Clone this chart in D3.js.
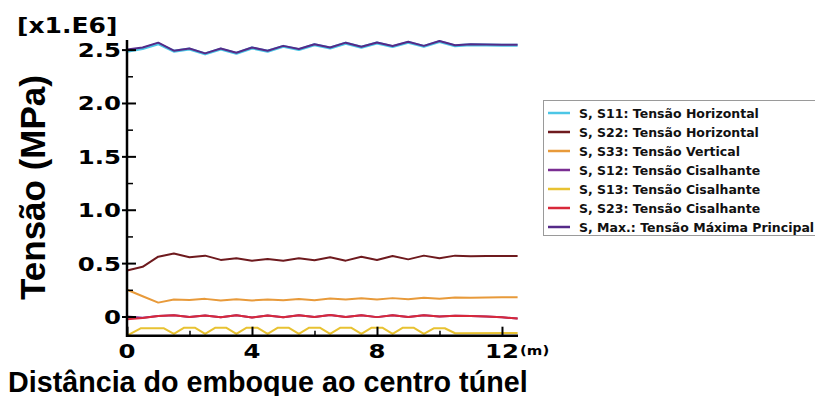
<!DOCTYPE html>
<html><head><meta charset="utf-8">
<script src="https://cdn.jsdelivr.net/npm/d3@7"></script>
<style>body{margin:0;background:#fff;} svg{display:block;}</style>
</head><body>
<svg id="c" width="815" height="396"></svg>
<script>
// ---- data (MPa x1e6) ----
const distance = [0,0.5,1,1.5,2,2.5,3,3.5,4,4.5,5,5.5,6,6.5,7,7.5,8,8.5,9,9.5,10,10.5,11,11.5,12,12.5];
const s11 = [2.485,2.51,2.555,2.485,2.505,2.46,2.505,2.465,2.515,2.485,2.53,2.5,2.545,2.515,2.56,2.522,2.562,2.528,2.568,2.53,2.575,2.535,2.545,2.542,2.54,2.54];
const s22 = [0.43,0.465,0.56,0.59,0.555,0.57,0.53,0.545,0.523,0.538,0.523,0.545,0.527,0.554,0.523,0.56,0.529,0.566,0.535,0.57,0.545,0.57,0.565,0.567,0.566,0.566];
const s33 = [0.25,0.19,0.13,0.16,0.155,0.165,0.15,0.162,0.15,0.16,0.152,0.163,0.153,0.168,0.158,0.17,0.16,0.172,0.162,0.175,0.165,0.177,0.175,0.178,0.18,0.18];
const s12 = [0.0,-0.012,0.005,0.012,-0.005,0.01,-0.008,0.012,-0.01,0.01,-0.008,0.012,-0.005,0.014,-0.005,0.012,-0.006,0.012,-0.004,0.012,0.0,0.008,0.004,0.0,-0.008,-0.018];
const s23 = [-0.025,-0.015,0.005,0.012,-0.005,0.01,-0.008,0.012,-0.01,0.01,-0.008,0.012,-0.005,0.014,-0.005,0.012,-0.006,0.012,-0.004,0.012,0.0,0.008,0.004,0.0,-0.008,-0.018];
const sMax = [2.5,2.52,2.565,2.49,2.51,2.465,2.51,2.47,2.52,2.49,2.535,2.505,2.55,2.52,2.565,2.527,2.567,2.533,2.573,2.535,2.58,2.54,2.55,2.547,2.545,2.545];
const distanceS13 = [0,0.45,1.17,1.5,1.83,2.17,2.5,2.83,3.17,3.5,3.83,4.17,4.5,4.83,5.17,5.5,5.83,6.17,6.5,6.83,7.17,7.5,7.83,8.17,8.5,8.83,9.17,9.5,9.83,10.17,10.5,12.5];
const s13 = [-0.18,-0.11,-0.11,-0.163,-0.105,-0.105,-0.163,-0.105,-0.105,-0.163,-0.105,-0.105,-0.163,-0.105,-0.105,-0.163,-0.105,-0.105,-0.163,-0.105,-0.105,-0.163,-0.105,-0.105,-0.163,-0.105,-0.105,-0.163,-0.11,-0.11,-0.157,-0.155];

const seriesNames = ["S, S11: Tensão Horizontal","S, S22: Tensão Horizontal","S, S33: Tensão Vertical","S, S12: Tensão Cisalhante","S, S13: Tensão Cisalhante","S, S23: Tensão Cisalhante","S, Max.: Tensão Máxima Principal"];
const seriesColors = ["#4cc6e6","#6e1a1e","#e89a3a","#7a2d92","#e8c232","#d8283a","#552a88"];

const yMajor = [0,0.5,1.0,1.5,2.0,2.5];
const yMajorLabels = ["0","0.5","1.0","1.5","2.0","2.5"];
const yMinor = [0.25,0.75,1.25,1.75,2.25];
const xMajor = [0,4,8,12];
const xMajorLabels = ["0","4","8","12"];
const xMinor = [2,6,10];

// ---- drawing ----
const svg = d3.select("#c");
const x = d3.scaleLinear().domain([0,12.5]).range([127,517.6]);
const y = d3.scaleLinear().domain([-0.18,2.59]).range([335.7,40]);
const tickFont = "'DejaVu Sans', Verdana, sans-serif";

const line = d3.line().x(d => x(d[0])).y(d => y(d[1]));
const seriesData = [
  distance.map((d,i)=>[d,s11[i]]),
  distance.map((d,i)=>[d,s22[i]]),
  distance.map((d,i)=>[d,s33[i]]),
  distance.map((d,i)=>[d,s12[i]]),
  distanceS13.map((d,i)=>[d,s13[i]]),
  distance.map((d,i)=>[d,s23[i]]),
  distance.map((d,i)=>[d,sMax[i]])
];
seriesData.forEach((pts,i)=>{
  svg.append("path").attr("d", line(pts)).attr("fill","none")
    .attr("stroke", seriesColors[i]).attr("stroke-width", i===0 ? 3 : 2)
    .attr("stroke-linejoin","round");
});

// axes
const yAxisG = svg.append("g").attr("transform","translate(127,0)");
yAxisG.call(d3.axisRight(y).tickValues(yMajor).tickSize(9).tickFormat(""));
yAxisG.call(g=>g.select(".domain").remove());
yAxisG.selectAll(".tick line").attr("stroke","#000").attr("stroke-width",2).attr("x1",-5);
const yMinorG = svg.append("g").attr("transform","translate(127,0)");
yMinorG.call(d3.axisRight(y).tickValues(yMinor).tickSize(6).tickFormat(""));
yMinorG.call(g=>g.select(".domain").remove());
yMinorG.selectAll(".tick line").attr("stroke","#000").attr("stroke-width",1.5);

const xAxisG = svg.append("g").attr("transform","translate(0,335.7)");
xAxisG.call(d3.axisTop(x).tickValues(xMajor).tickSize(9).tickFormat(""));
xAxisG.call(g=>g.select(".domain").remove());
xAxisG.selectAll(".tick line").attr("stroke","#000").attr("stroke-width",2);
const xMinorG = svg.append("g").attr("transform","translate(0,335.7)");
xMinorG.call(d3.axisTop(x).tickValues(xMinor).tickSize(5).tickFormat(""));
xMinorG.call(g=>g.select(".domain").remove());
xMinorG.selectAll(".tick line").attr("stroke","#000").attr("stroke-width",1.5);

svg.append("line").attr("x1",127).attr("x2",127).attr("y1",40).attr("y2",337).attr("stroke","#000").attr("stroke-width",2.5);
svg.append("line").attr("x1",126).attr("x2",518).attr("y1",335.7).attr("y2",335.7).attr("stroke","#000").attr("stroke-width",2.5);

// tick labels (stretched horizontally like the reference)
yMajor.forEach((v,i)=>{
  svg.append("text").attr("transform",`translate(121,${y(v)+7.5}) scale(1.22,1)`)
    .attr("text-anchor","end").attr("font-family",tickFont).attr("font-weight","bold")
    .attr("font-size",20).attr("fill","#000").text(yMajorLabels[i]);
});
xMajor.forEach((v,i)=>{
  svg.append("text").attr("transform",`translate(${x(v)},357.5) scale(1.22,1)`)
    .attr("text-anchor","middle").attr("font-family",tickFont).attr("font-weight","bold")
    .attr("font-size",20).attr("fill","#000").text(xMajorLabels[i]);
});
svg.append("text").attr("transform","translate(520,355) scale(1.15,1)")
  .attr("font-family",tickFont).attr("font-weight","bold").attr("font-size",13).text("(m)");
svg.append("text").attr("transform","translate(17,33) scale(1.22,1)")
  .attr("font-family",tickFont).attr("font-weight","bold").attr("font-size",20.5).text("[x1.E6]");

// axis titles
svg.append("text").attr("x",8).attr("y",391.5)
  .attr("font-family","'Liberation Sans', Arial, sans-serif").attr("font-weight","bold")
  .attr("font-size",28.7).text("Distância do emboque ao centro túnel");
svg.append("text").attr("transform","translate(45,187.5) rotate(-90)").attr("text-anchor","middle")
  .attr("font-family","'Liberation Sans', Arial, sans-serif").attr("font-weight","bold")
  .attr("font-size",35).text("Tensão (MPa)");

// legend
const lg = svg.append("g");
lg.append("rect").attr("x",543.5).attr("y",100.5).attr("width",290).attr("height",135)
  .attr("fill","#fff").attr("stroke","#9a9a9a").attr("stroke-width",1);
seriesNames.forEach((n,i)=>{
  const cy = 113 + i*19;
  lg.append("line").attr("x1",548).attr("x2",570).attr("y1",cy).attr("y2",cy)
    .attr("stroke",seriesColors[i]).attr("stroke-width",2.5);
  lg.append("text").attr("x",579).attr("y",cy+4.5).attr("font-family",tickFont)
    .attr("font-weight","bold").attr("font-size",12.5).attr("fill","#111").text(n);
});
</script>
</body></html>
